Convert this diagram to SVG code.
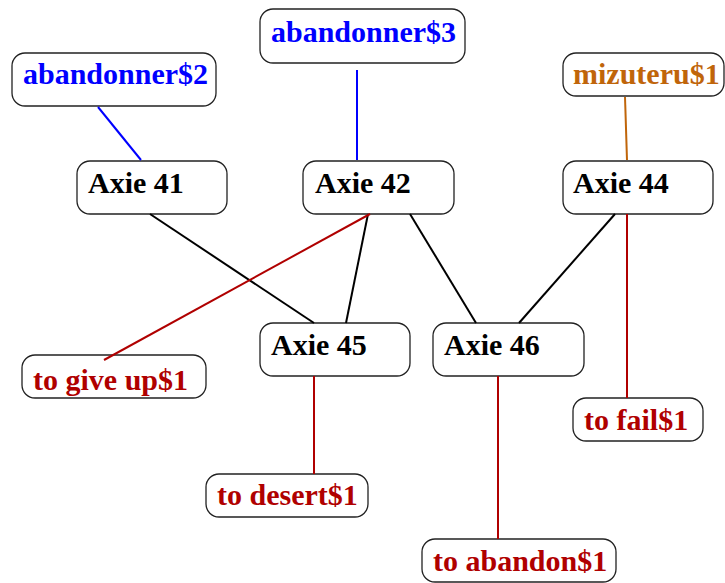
<svg xmlns="http://www.w3.org/2000/svg" width="725" height="583" viewBox="0 0 725 583">
<style>
rect{fill:#fff;stroke:#222;stroke-width:1.3}
text{font-family:"Liberation Serif","Times New Roman",serif;font-weight:bold;font-size:30px}
.k{fill:#000}.b{fill:#0000ff}.o{fill:#c0650a}.r{fill:#b00000}
#edges line{stroke-width:2}
</style>
<rect x="0" y="0" width="725" height="583" style="stroke:none"/>
<g id="abandonner2"><rect x="12" y="53" width="204" height="53" rx="13"/><text x="23" y="84" class="b">abandonner$2</text></g>
<g id="abandonner3"><rect x="260" y="9" width="205" height="54" rx="13"/><text x="271" y="42" class="b">abandonner$3</text></g>
<g id="mizuteru1"><rect x="563" y="53" width="161" height="43" rx="13"/><text x="573" y="84" class="o">mizuteru$1</text></g>
<g id="axie41"><rect x="77" y="161" width="150" height="53" rx="13"/><text x="88" y="193" class="k">Axie 41</text></g>
<g id="axie42"><rect x="303" y="161" width="151" height="53" rx="13"/><text x="315" y="193" class="k">Axie 42</text></g>
<g id="axie44"><rect x="563" y="161" width="150" height="53" rx="13"/><text x="573" y="193" class="k">Axie 44</text></g>
<g id="axie45"><rect x="260" y="323" width="150" height="53" rx="13"/><text x="271" y="355" class="k">Axie 45</text></g>
<g id="axie46"><rect x="433" y="323" width="151" height="53" rx="13"/><text x="444" y="355" class="k">Axie 46</text></g>
<g id="togiveup1"><rect x="22" y="355" width="184" height="43" rx="13"/><text x="33" y="390" class="r">to give up$1</text></g>
<g id="todesert1"><rect x="206" y="474" width="162" height="43" rx="13"/><text x="217" y="505" class="r">to desert$1</text></g>
<g id="tofail1"><rect x="573" y="398" width="130" height="43" rx="13"/><text x="584" y="430" class="r">to fail$1</text></g>
<g id="toabandon1"><rect x="422" y="539" width="194" height="43" rx="13"/><text x="433" y="571" class="r">to abandon$1</text></g>
<g id="edges">
<line x1="98" y1="107" x2="141" y2="160" stroke="#0000ff"/>
<line x1="357" y1="70" x2="357" y2="160" stroke="#0000ff"/>
<line x1="625" y1="97" x2="627" y2="160" stroke="#c0650a"/>
<line x1="150" y1="214" x2="314" y2="323" stroke="#000"/>
<line x1="368" y1="214" x2="346" y2="323" stroke="#000"/>
<line x1="410" y1="214" x2="476" y2="323" stroke="#000"/>
<line x1="615" y1="214" x2="519" y2="323" stroke="#000"/>
<line x1="104" y1="360" x2="370" y2="214" stroke="#b00000"/>
<line x1="314" y1="376" x2="314" y2="474" stroke="#b00000"/>
<line x1="498" y1="376" x2="498" y2="539" stroke="#b00000"/>
<line x1="627" y1="214" x2="627" y2="398" stroke="#b00000"/>
</g>
</svg>
